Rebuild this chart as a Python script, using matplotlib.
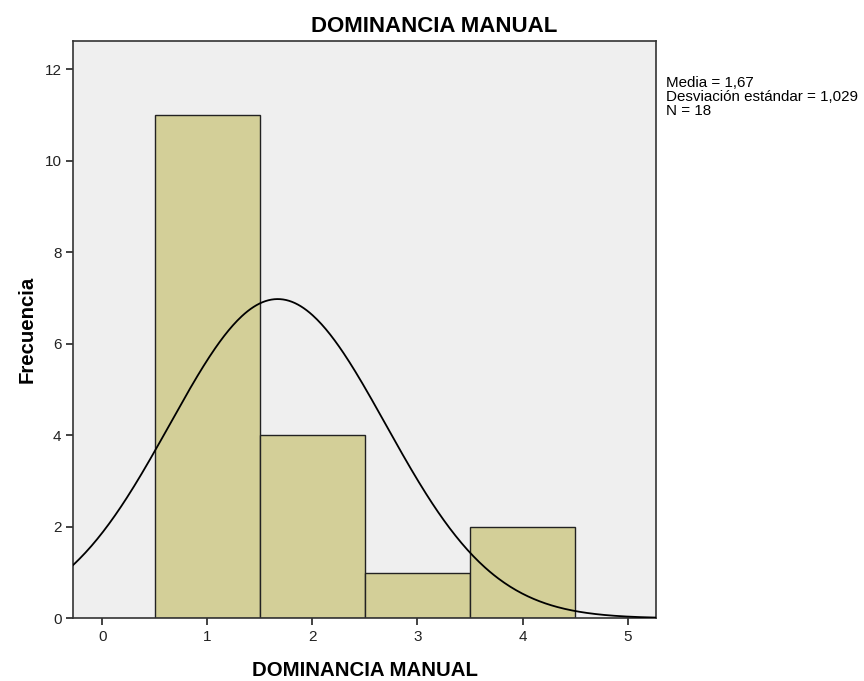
import numpy as np
import matplotlib.pyplot as plt

plt.rcParams['font.family'] = ['Liberation Sans', 'DejaVu Sans']

# data
valores = [1, 2, 3, 4]
frecuencias = [11, 4, 1, 2]
media = 1.67
desv = 1.029
n = 18
titulo = 'DOMINANCIA MANUAL'


def main():
    fig = plt.figure(figsize=(8.64, 6.81), dpi=100)
    ax = fig.add_axes([0.0848, 0.0921, 0.675, 0.848])
    ax.set_facecolor('#efefef')

    ax.bar(valores, frecuencias, width=1.0, color='#d3cf98',
           edgecolor='#222222', linewidth=1.0, zorder=2)

    # normal curve scaled to counts
    xs = np.linspace(-0.3, 5.3, 400)
    ys = n * 1.0 / (desv * np.sqrt(2 * np.pi)) * np.exp(-0.5 * ((xs - media) / desv) ** 2)
    ax.plot(xs, ys, color='black', linewidth=1.3, zorder=3)

    ax.set_xlim(-0.276, 5.275)
    ax.set_ylim(0, 12.625)
    ax.set_xticks(range(0, 6))
    ax.set_yticks(range(0, 13, 2))
    ax.tick_params(direction='out', length=5, width=1.2, labelsize=11,
                   colors='#222222', top=False, right=False)
    for s in ax.spines.values():
        s.set_color('#333333')
        s.set_linewidth(1.2)

    # title is centred on the whole figure, not on the axes
    fig.text(0.503, 1 - 32 / 681, titulo, fontsize=16, fontweight='bold',
             ha='center', va='baseline')
    ax.set_xlabel(titulo, fontsize=14.7, fontweight='bold', labelpad=12)
    ax.set_ylabel('Frecuencia', fontsize=14.7, fontweight='bold', labelpad=6)

    txt = 'Media = 1,67\nDesviación estándar = 1,029\nN = 18'
    fig.text(0.771, 0.889, txt, fontsize=10.9, va='top', ha='left',
             linespacing=1.02)

    fig.savefig('out.png', dpi=100)


if __name__ == '__main__':
    main()
